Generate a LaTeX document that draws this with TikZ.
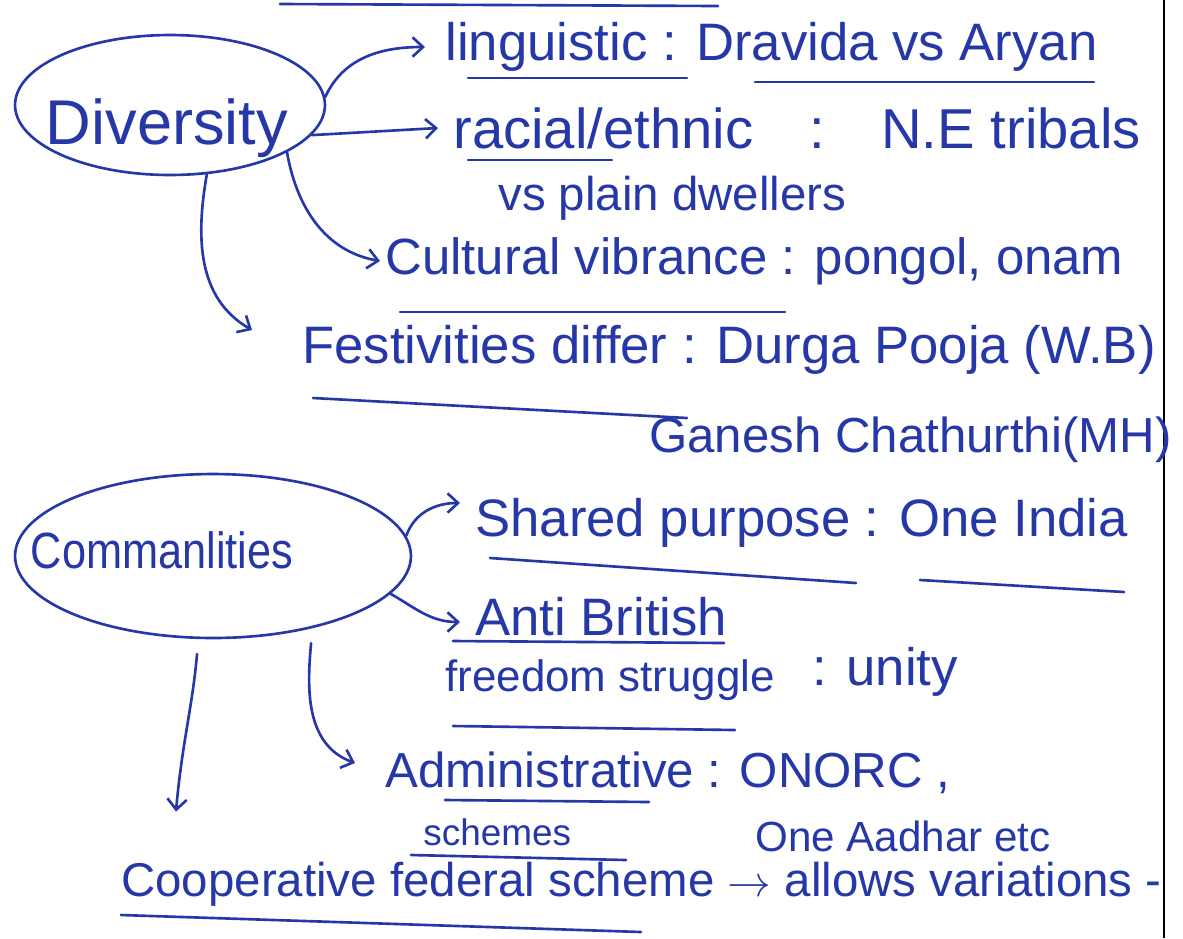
\documentclass[tikz,border=0pt]{standalone}
\usepackage{fontspec}
\setmainfont{Liberation Sans}
\usetikzlibrary{arrows.meta,shapes.geometric}
\definecolor{ink}{RGB}{38,56,168}

\begin{document}
\begin{tikzpicture}[x=0.02cm, y=-0.02cm,
        pen/.style={ink, line width=1.5pt, line cap=round},
        arr/.style={pen, -{Straight Barb[length=6pt,width=11pt]}},
        bubble/.style={draw=ink, line width=1.5pt, ellipse, inner sep=0pt},
        note/.style={text=ink, anchor=west, inner sep=0pt, font=\fontsize{#1}{#1}\selectfont},
        note/.default=30]

        \useasboundingbox (0,0) rectangle (1183,938);
        \fill[white] (0,0) rectangle (1183,938);
        \draw[black, line width=1pt] (1164,0) -- (1164,938);
        \draw[pen] (280,4) -- (718,6);

        % diversity
        \node[bubble, minimum width=6.2cm, minimum height=2.8cm] (div) at (170,105) {};
        \node[note=36, anchor=center] (divtxt) at (167,128) {Diversity};

        \node[note] (ling) at (445,47) {linguistic : Dravida vs Aryan};
        \node[note=32] (rac) at (453,128) {racial/ethnic\quad:\quad N.E tribals};
        \node[note=27] (plain) at (498,198) {vs plain dwellers};
        \node[note=29] (cult) at (385,261) {Cultural vibrance : pongol, onam};
        \node[note] (fest) at (302,350) {Festivities differ : Durga Pooja (W.B)};
        \node[note=28] (gan) at (649,440) {Ganesh Chathurthi(MH)};

        \draw[arr] (div.3) to[out=65,in=180] ([xshift=-0.4cm]ling.west);
        \draw[arr] (div.-12) -- ([xshift=-0.3cm]rac.west);
        \draw[arr] (div.-22) to[out=-80,in=170] ([xshift=-0.1cm]cult.west);
        \draw[arr] (div.-62) to[out=-100,in=150] ([xshift=-1cm,yshift=0.4cm]fest.west);

        \draw[pen] (468,78) -- (687,78);
        \draw[pen] (755,82) -- (1094,82);
        \draw[pen] (468,160) -- (612,160);
        \draw[pen] (400,312) -- (785,312);
        \draw[pen] (313,398) -- (687,418);

        % commonalities
        \node[bubble, minimum width=7.92cm, minimum height=3.28cm] (com) at (213,556) {};
        \node[note=29, anchor=center] (comtxt) at (162,550) {\scalebox{0.85}[1]{Commanlities}};

        \node[note] (shar) at (475,523) {Shared purpose : One India};
        \node[note] (anti) at (475,617) {Anti British};
        \node[note=25] (free) at (445,680) {freedom struggle};
        \node[note] (unity) at (812,672) {: unity};
        \node[note=28] (adm) at (385,773) {Administrative : ONORC ,};
        \node[note=21] (sch) at (423,832) {schemes};
        \node[note=24] (aad) at (755,836) {One Aadhar etc};
        \node[note=27] (coop) at (121,884) {Cooperative federal scheme $\rightarrow$ allows variations -};

        \draw[arr] (com.6) to[out=70,in=180] ([xshift=-0.3cm,yshift=0.4cm]shar.west);
        \draw[arr] (com.-12) to[out=-30,in=180] ([xshift=-0.3cm,yshift=-0.1cm]anti.west);
        \draw[arr, shorten <=0.3cm] (com.-36) to[out=-95,in=160] ([xshift=-0.6cm,yshift=0.2cm]adm.west);
        \draw[arr, shorten <=0.3cm] (com.-100) to[out=-95,in=85] ([xshift=1.1cm,yshift=1cm]coop.north west);

        \draw[pen] (490,558) -- (856,583);
        \draw[pen] (920,580) -- (1124,592);
        \draw[pen] (453,641) -- (724,643);
        \draw[pen] (453,726) -- (735,730);
        \draw[pen] (445,800) -- (649,802);
        \draw[pen] (411,855) -- (626,860);
        \draw[pen] (121,915) -- (641,932);
    \end{tikzpicture}
\end{document}
